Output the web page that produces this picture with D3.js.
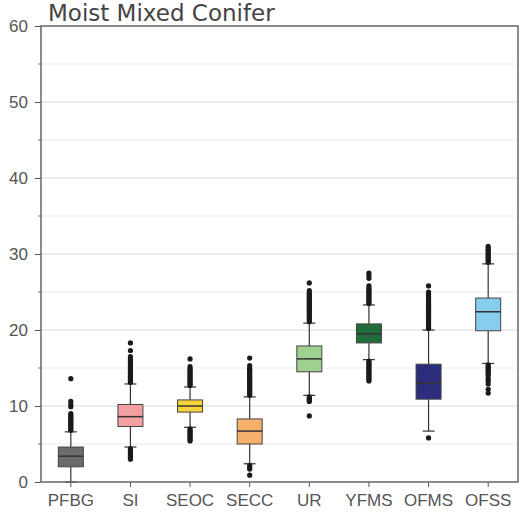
<!DOCTYPE html>
<html>
<head>
<meta charset="utf-8">
<script src="https://cdn.jsdelivr.net/npm/d3@7"></script>
<style>
  body { margin: 0; background: #fff; }
  svg { display: block; font-family: "DejaVu Sans", sans-serif; }
</style>
</head>
<body>
<svg id="chart"></svg>
<script>
// categories and box stats
const categories = ["PFBG", "SI", "SEOC", "SECC", "UR", "YFMS", "OFMS", "OFSS"];
const colors = ["#6b6b6b", "#f4a0a3", "#f6d53a", "#f6b06c", "#9ed08f", "#226b3c", "#2d2d7e", "#86cdee"];
const q1 = [2.0, 7.3, 9.2, 5.0, 14.5, 18.3, 10.9, 19.9];
const medians = [3.4, 8.6, 10.0, 6.7, 16.2, 19.5, 13.0, 22.4];
const q3 = [4.6, 10.2, 10.8, 8.3, 17.9, 20.8, 15.5, 24.2];
const whiskerLow = [0.0, 4.6, 7.2, 2.4, 11.4, 16.1, 6.7, 15.6];
const whiskerHigh = [6.6, 12.9, 12.5, 11.2, 20.9, 23.3, 20.0, 28.7];
const outliers = [
  [6.8, 7.0, 7.2, 7.4, 7.6, 7.8, 8.0, 8.2, 8.4, 8.6, 8.8, 9.0, 9.9, 10.2, 10.6, 13.6],
  [4.4, 4.2, 4.0, 3.8, 3.6, 3.4, 3.2, 3.0,
   13.1, 13.3, 13.5, 13.7, 13.9, 14.1, 14.3, 14.5, 14.7, 14.9, 15.1, 15.3, 15.5, 15.7, 15.9, 16.2, 16.5, 17.3, 18.3],
  [7.0, 6.8, 6.6, 6.4, 6.2, 6.0, 5.8, 5.6, 5.4,
   12.7, 12.9, 13.1, 13.3, 13.5, 13.7, 13.9, 14.1, 14.3, 14.5, 14.7, 14.9, 15.2, 16.2],
  [2.2, 1.9, 1.7, 0.9,
   11.4, 11.6, 11.8, 12.0, 12.2, 12.4, 12.6, 12.8, 13.0, 13.2, 13.4, 13.6, 13.8, 14.0, 14.2, 14.4, 14.6, 14.8, 15.0, 15.3, 16.3],
  [11.2, 11.0, 10.8, 10.6, 8.7,
   21.1, 21.3, 21.5, 21.7, 21.9, 22.1, 22.3, 22.5, 22.7, 22.9, 23.1, 23.3, 23.5, 23.7, 23.9, 24.1, 24.3, 24.5, 24.7, 24.9, 25.2, 26.2],
  [15.9, 15.7, 15.5, 15.3, 15.1, 14.9, 14.7, 14.5, 14.3, 14.1, 13.9, 13.7, 13.5, 13.3,
   23.5, 23.7, 23.9, 24.1, 24.3, 24.5, 24.7, 24.9, 25.1, 25.3, 25.5, 25.8, 26.8, 27.2, 27.5],
  [5.8,
   20.2, 20.4, 20.6, 20.8, 21.0, 21.2, 21.4, 21.6, 21.8, 22.0, 22.2, 22.4, 22.6, 22.8, 23.0, 23.2, 23.4, 23.6, 23.8, 24.0, 24.2, 24.4, 24.7, 25.0, 25.8],
  [15.4, 15.2, 15.0, 14.8, 14.6, 14.4, 14.2, 14.0, 13.6, 13.3, 12.9, 12.2, 11.7,
   28.9, 29.1, 29.3, 29.5, 29.7, 29.9, 30.1, 30.3, 30.5, 30.7, 31.0]
];
const yTicks = [0, 10, 20, 30, 40, 50, 60];
const yMinor = [5, 15, 25, 35, 45, 55];

const width = 520;
const height = 515;
const margin = { top: 26, right: 2, bottom: 33, left: 41 };

const svg = d3.select("#chart").attr("width", width).attr("height", height);

const x = d3
  .scaleBand()
  .domain(categories)
  .range([margin.left, width - margin.right]);

const y = d3
  .scaleLinear()
  .domain([0, 60])
  .range([height - margin.bottom, margin.top]);

// grid lines (minor lighter, major a bit darker)
svg
  .append("g")
  .selectAll("line")
  .data(yMinor)
  .join("line")
  .attr("x1", margin.left)
  .attr("x2", width - margin.right)
  .attr("y1", (d) => y(d))
  .attr("y2", (d) => y(d))
  .attr("stroke", "#ececec")
  .attr("stroke-width", 1);

svg
  .append("g")
  .selectAll("line")
  .data(yTicks.slice(1, -1))
  .join("line")
  .attr("x1", margin.left)
  .attr("x2", width - margin.right)
  .attr("y1", (d) => y(d))
  .attr("y2", (d) => y(d))
  .attr("stroke", "#dadada")
  .attr("stroke-width", 1);

// boxes
const boxW = 25;
const capW = 12;
const groups = svg
  .append("g")
  .selectAll("g")
  .data(categories)
  .join("g")
  .attr("transform", (d) => `translate(${x(d) + x.bandwidth() / 2},0)`);

groups
  .append("line")
  .attr("y1", (d, i) => y(whiskerLow[i]))
  .attr("y2", (d, i) => y(q1[i]))
  .attr("stroke", "#333")
  .attr("stroke-width", 1.2);

groups
  .append("line")
  .attr("y1", (d, i) => y(q3[i]))
  .attr("y2", (d, i) => y(whiskerHigh[i]))
  .attr("stroke", "#333")
  .attr("stroke-width", 1.2);

groups
  .append("line")
  .attr("x1", -capW / 2)
  .attr("x2", capW / 2)
  .attr("y1", (d, i) => y(whiskerLow[i]))
  .attr("y2", (d, i) => y(whiskerLow[i]))
  .attr("stroke", "#333")
  .attr("stroke-width", 1.2);

groups
  .append("line")
  .attr("x1", -capW / 2)
  .attr("x2", capW / 2)
  .attr("y1", (d, i) => y(whiskerHigh[i]))
  .attr("y2", (d, i) => y(whiskerHigh[i]))
  .attr("stroke", "#333")
  .attr("stroke-width", 1.2);

groups
  .append("rect")
  .attr("x", -boxW / 2)
  .attr("width", boxW)
  .attr("y", (d, i) => y(q3[i]))
  .attr("height", (d, i) => y(q1[i]) - y(q3[i]))
  .attr("fill", (d, i) => colors[i])
  .attr("stroke", "#444")
  .attr("stroke-width", 1);

groups
  .append("line")
  .attr("x1", -boxW / 2)
  .attr("x2", boxW / 2)
  .attr("y1", (d, i) => y(medians[i]))
  .attr("y2", (d, i) => y(medians[i]))
  .attr("stroke", "#333")
  .attr("stroke-width", 1.5);

groups
  .selectAll("circle")
  .data((d, i) => outliers[i])
  .join("circle")
  .attr("cx", 0)
  .attr("cy", (d) => y(d))
  .attr("r", 2.6)
  .attr("fill", "#1a1a1a");

// axes
const yAxis = d3
  .axisLeft(y)
  .tickValues(yTicks)
  .tickSize(6)
  .tickPadding(7)
  .tickSizeOuter(0);
const gy = svg
  .append("g")
  .attr("transform", `translate(${margin.left},0)`)
  .call(yAxis);
gy.select(".domain").remove();
gy.selectAll("line").attr("stroke", "#555");
gy.selectAll("text").attr("fill", "#555").style("font-size", "17px");

svg
  .append("g")
  .selectAll("line")
  .data(yMinor)
  .join("line")
  .attr("x1", margin.left - 3)
  .attr("x2", margin.left)
  .attr("y1", (d) => y(d))
  .attr("y2", (d) => y(d))
  .attr("stroke", "#777");

const xAxis = d3.axisBottom(x).tickSize(5).tickPadding(7).tickSizeOuter(0);
const gx = svg
  .append("g")
  .attr("transform", `translate(0,${height - margin.bottom})`)
  .call(xAxis);
gx.select(".domain").remove();
gx.selectAll("line").attr("stroke", "#555");
gx.selectAll("text").attr("fill", "#555").style("font-size", "17px");

// frame
svg
  .append("rect")
  .attr("x", margin.left)
  .attr("y", margin.top)
  .attr("width", width - margin.left - margin.right)
  .attr("height", height - margin.top - margin.bottom)
  .attr("fill", "none")
  .attr("stroke", "#666")
  .attr("stroke-width", 1.5);

// title
svg
  .append("text")
  .attr("x", margin.left + 7)
  .attr("y", 21)
  .attr("fill", "#444")
  .style("font-size", "23px")
  .text("Moist Mixed Conifer");
</script>
</body>
</html>
